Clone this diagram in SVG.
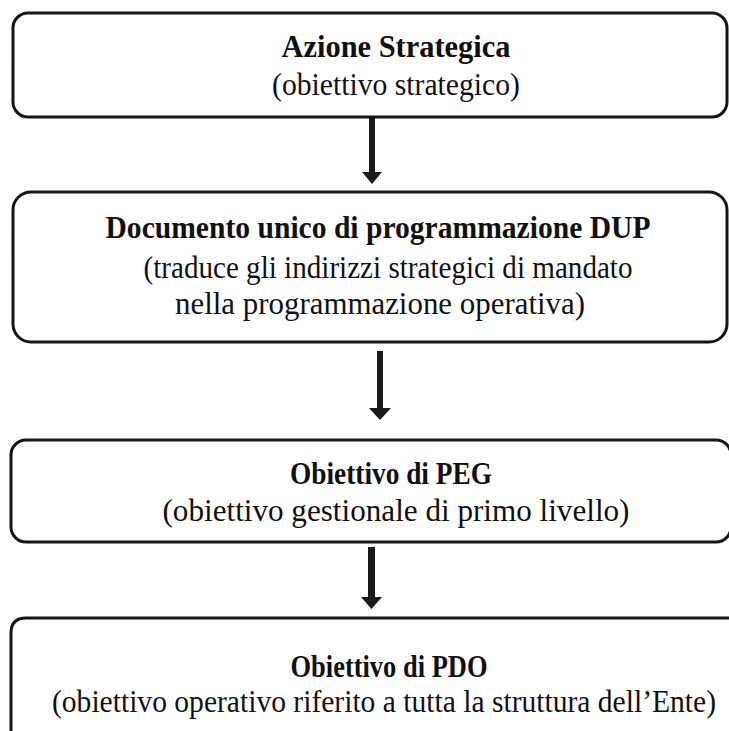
<svg xmlns="http://www.w3.org/2000/svg" width="729" height="731" viewBox="0 0 729 731">
<style>
.box{fill:#fff;stroke:#151515;stroke-width:3}
.t{font-family:"Liberation Serif","Times New Roman",serif;font-size:31px;fill:#111;text-anchor:middle}
.b{font-weight:bold}
.sh{fill:#1a1a1a}
</style>
<rect width="729" height="731" fill="#fff"/>
<g id="connectors">
<path class="sh" d="M369 117 H375 V172 H382 L372 184 L362 172 H369 Z"/>
<path class="sh" d="M377 351 H383 V408 H391 L380 420 L369 408 H377 Z"/>
<path class="sh" d="M368 547 H375 V597 H382 L371.5 609 L361 597 H368 Z"/>
</g>
<g id="node1">
<rect class="box" x="13" y="13" width="714" height="104" rx="15"/>
<text class="t b" x="396" y="57" textLength="229" lengthAdjust="spacingAndGlyphs">Azione Strategica</text>
<text class="t" x="396" y="95" textLength="248" lengthAdjust="spacingAndGlyphs">(obiettivo strategico)</text>
</g>
<g id="node2">
<rect class="box" x="13" y="192" width="714" height="150" rx="18"/>
<text class="t b" x="378" y="238" textLength="545" lengthAdjust="spacingAndGlyphs">Documento unico di programmazione DUP</text>
<text class="t" x="388" y="278" textLength="489" lengthAdjust="spacingAndGlyphs">(traduce gli indirizzi strategici di mandato</text>
<text class="t" x="380" y="314" textLength="410" lengthAdjust="spacingAndGlyphs">nella programmazione operativa)</text>
</g>
<g id="node3">
<rect class="box" x="11" y="440" width="720" height="102" rx="15"/>
<text class="t b" x="391" y="484" textLength="202" lengthAdjust="spacingAndGlyphs">Obiettivo di PEG</text>
<text class="t" x="396" y="521" textLength="467" lengthAdjust="spacingAndGlyphs">(obiettivo gestionale di primo livello)</text>
</g>
<g id="node4">
<path class="box" fill="none" d="M729 618 H26 Q11 618 11 633 V731"/>
<text class="t b" x="389" y="677" textLength="197" lengthAdjust="spacingAndGlyphs">Obiettivo di PDO</text>
<text class="t" transform="translate(384 712) scale(0.8 1)" x="0" y="0" textLength="830" lengthAdjust="spacingAndGlyphs">(obiettivo operativo riferito a tutta la struttura dell’Ente)</text>
</g>
</svg>
